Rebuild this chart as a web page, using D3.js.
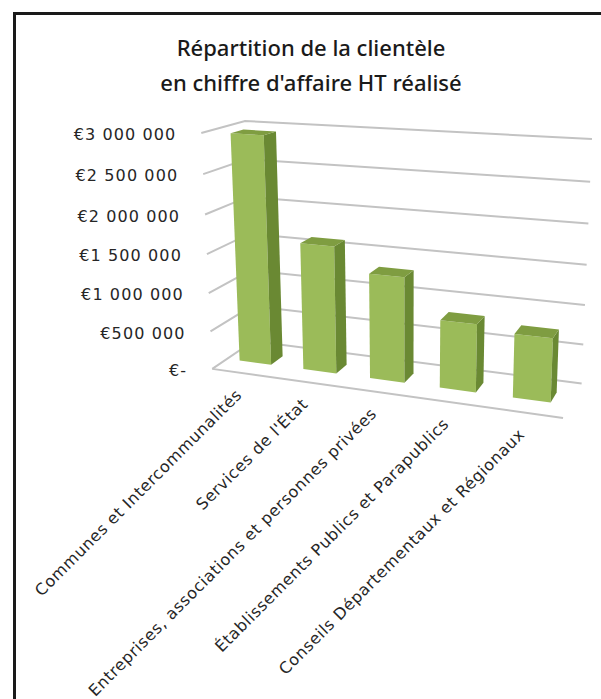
<!DOCTYPE html>
<html>
<head>
<meta charset="utf-8">
<script src="https://cdn.jsdelivr.net/npm/d3@7"></script>
<style>
html,body{margin:0;padding:0;background:#fff;overflow:hidden;}
svg{display:block;}
text{font-family:"DejaVu Sans",sans-serif;fill:#262626;}
</style>
</head>
<body>
<script>
// data
var categories = ["Communes et Intercommunalités", "Services de l'État", "Entreprises, associations et personnes privées", "Établissements Publics et Parapublics", "Conseils Départementaux et Régionaux"];
var values = [2950000, 1640000, 1340000, 855000, 790000];
var tickValues = [0, 500000, 1000000, 1500000, 2000000, 2500000, 3000000];
var tickLabels = ["€-", "€500 000", "€1 000 000", "€1 500 000", "€2 000 000", "€2 500 000", "€3 000 000"];
var titleLines = ["Répartition de la clientèle", "en chiffre d'affaire HT réalisé"];

var width = 601, height = 699;
var svg = d3.select("body").append("svg").attr("width", width).attr("height", height);

// where the plot box shows on screen : [u, v, w, x, y]
// u = across categories, v = value (0..1), w = depth (0 front, 1 back)
var sideFront = [[213,368],[210,332],[208,293],[207,255],[205,215],[203,173],[202,133]];
var backRight = [[582,383],[583,345],[585,305],[587,265],[588,223],[590,182],[592,139]];
var anchors = [[0,1,1, 245,121], [1,0,0, 563,418]];
sideFront.forEach(function(p,i){ anchors.push([0, i/6, 0, p[0], p[1]]); });
backRight.forEach(function(p,i){ anchors.push([1, i/6, 1, p[0], p[1]]); });

// fit a perspective camera (3x4 matrix) to these points, least squares
var P = (function(pts){
  var A = [], b = [];
  pts.forEach(function(p){
    var X=p[0], Y=p[1], Z=p[2], x=(p[3]-400)/200, y=(p[4]-270)/200;
    A.push([X,Y,Z,1,0,0,0,0,-x*X,-x*Y,-x*Z]); b.push(x);
    A.push([0,0,0,0,X,Y,Z,1,-y*X,-y*Y,-y*Z]); b.push(y);
  });
  var n = 11, M = [];
  for (var i=0;i<n;i++){
    M[i] = [];
    for (var j=0;j<n;j++){ var s=0; for (var k=0;k<A.length;k++) s+=A[k][i]*A[k][j]; M[i][j]=s; }
    var r=0; for (var k=0;k<A.length;k++) r+=A[k][i]*b[k]; M[i][n]=r;
  }
  for (var c=0;c<n;c++){
    var piv=c;
    for (var r2=c+1;r2<n;r2++) if (Math.abs(M[r2][c])>Math.abs(M[piv][c])) piv=r2;
    var t=M[c]; M[c]=M[piv]; M[piv]=t;
    for (var r2=0;r2<n;r2++){
      if (r2===c) continue;
      var f=M[r2][c]/M[c][c];
      for (var j=c;j<=n;j++) M[r2][j]-=f*M[c][j];
    }
  }
  var sol=[]; for (var i=0;i<n;i++) sol.push(M[i][n]/M[i][i]);
  return sol;
})(anchors);

function project(u, v, w){
  var d = P[8]*u + P[9]*v + P[10]*w + 1;
  var x = (P[0]*u + P[1]*v + P[2]*w + P[3]) / d;
  var y = (P[4]*u + P[5]*v + P[6]*w + P[7]) / d;
  return [x*200+400, y*200+270];
}

var xScale = d3.scaleBand().domain(categories).range([0,0.99]).paddingInner(0.5).paddingOuter(0.2);
var yScale = d3.scaleLinear().domain([0, 3000000]).range([0,1]);
var depth = [0.35, 0.65];

var line = d3.line();
function poly(pts){ return line(pts.map(function(p){ return project(p[0],p[1],p[2]); })) + "Z"; }

// frame : only its top and left edges fall inside the picture
svg.append("line").attr("x1",13).attr("x2",width).attr("y1",13.5).attr("y2",13.5)
  .attr("stroke","#1a1a1a").attr("stroke-width",3);
svg.append("line").attr("x1",14.5).attr("x2",14.5).attr("y1",12).attr("y2",height)
  .attr("stroke","#1a1a1a").attr("stroke-width",3);

// title
svg.selectAll(".title").data(titleLines).enter().append("text")
  .attr("class","title")
  .attr("x",311).attr("y",function(d,i){ return 56 + i*35; })
  .attr("text-anchor","middle")
  .style("font-family","'Noto Sans',sans-serif").style("font-weight",500).style("font-size","22px")
  .style("fill","#1a1a1a")
  .text(function(d){ return d; });

// gridlines: side wall then back wall
var grid = svg.append("g");
grid.selectAll("path").data(tickValues).enter().append("path")
  .attr("d", function(d){
    var v = yScale(d);
    return line([project(0,v,0), project(0,v,1), project(1,v,1)]);
  })
  .attr("fill","none").attr("stroke","#c3c3c3").attr("stroke-width",2);
// front edge of the floor
grid.append("path").attr("d", line([project(0,0,0), project(1,0,0)]))
  .attr("fill","none").attr("stroke","#c3c3c3").attr("stroke-width",2);

// y labels
svg.selectAll(".ytick").data(tickValues).enter().append("text")
  .attr("class","ytick")
  .attr("x", function(d){ return project(0,yScale(d),0)[0] - 25; })
  .attr("y", function(d){ return project(0,yScale(d),0)[1]; })
  .attr("dy","0.45em").attr("text-anchor","end")
  .style("font-size","16px").style("letter-spacing","1.1px")
  .text(function(d,i){ return tickLabels[i]; });

// bars
var bars = svg.selectAll(".bar").data(values).enter().append("g").attr("class","bar");
bars.each(function(d,i){
  var g = d3.select(this);
  var u0 = xScale(categories[i]), u1 = u0 + xScale.bandwidth();
  var vt = yScale(d), wf = depth[0], wb = depth[1];
  g.append("path").attr("d", poly([[u0,0,wf],[u1,0,wf],[u1,vt,wf],[u0,vt,wf]])).attr("fill","#9bbb59");
  g.append("path").attr("d", poly([[u1,0,wf],[u1,0,wb],[u1,vt,wb],[u1,vt,wf]])).attr("fill","#6a8933");
  g.append("path").attr("d", poly([[u0,vt,wf],[u1,vt,wf],[u1,vt,wb],[u0,vt,wb]])).attr("fill","#7f9d41");
});

// x labels
svg.selectAll(".xlab").data(categories).enter().append("text")
  .attr("class","xlab")
  .attr("transform", function(d){
    var p = project(xScale(d) + xScale.bandwidth()/2, 0, 0);
    return "translate(" + (p[0]-2) + "," + (p[1]+19) + ") rotate(-45)";
  })
  .attr("text-anchor","end").attr("dy","0.35em")
  .style("font-size","16px").style("letter-spacing","0.6px")
  .text(function(d){ return d; });
</script>
</body>
</html>
